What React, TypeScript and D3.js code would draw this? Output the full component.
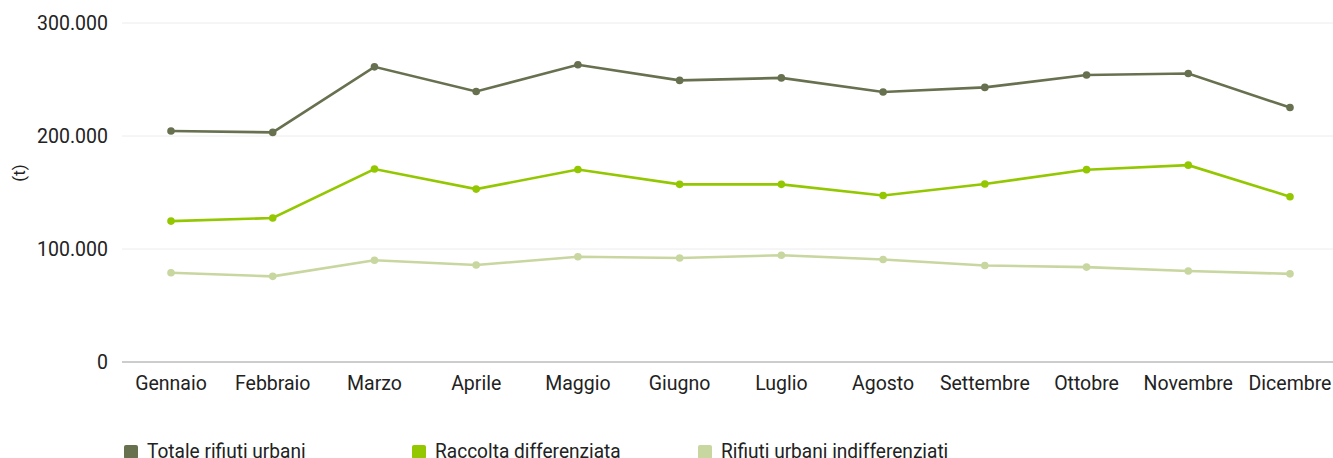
import React from "react";
import * as d3 from "d3";

const months = ["Gennaio","Febbraio","Marzo","Aprile","Maggio","Giugno","Luglio","Agosto","Settembre","Ottobre","Novembre","Dicembre"];
const totale = [204400, 203200, 261200, 239400, 263000, 249200, 251400, 239000, 243000, 254000, 255300, 225200];
const raccolta = [124700, 127400, 170800, 153000, 170300, 157200, 157200, 147300, 157500, 170200, 174200, 146300];
const indiff = [79000, 75800, 90000, 85800, 93200, 92000, 94500, 90700, 85400, 84000, 80500, 78000];
const yTicks = [0, 100000, 200000, 300000];
const seriesNames = ["Totale rifiuti urbani", "Raccolta differenziata", "Rifiuti urbani indifferenziati"];
const seriesColors = ["#67714f", "#93c700", "#c8d6a0"];

export default function App() {
  const W = 1333, H = 458;
  const x = d3.scalePoint<string>().domain(months).range([171, 1290]);
  const y = d3.scaleLinear().domain([0, 300000]).range([362, 23]);
  const fmt = (v: number) => d3.format(",")(v).replace(/,/g, ".");
  const line = d3.line<number>().x((_, i) => x(months[i])!).y((d) => y(d));
  const series = [totale, raccolta, indiff];
  const legendX = [124, 412, 698];
  const font = "Roboto, sans-serif";
  return (
    <svg width={W} height={H} style={{ position: "absolute", left: 0, top: 0, display: "block" }} fontFamily={font}>
      {yTicks.map((t) => (
        <g key={t}>
          <line x1={122} x2={W} y1={y(t)} y2={y(t)} stroke={t === 0 ? "#9a9a9a" : "#ececec"} strokeWidth={1} />
          <text x={108} y={y(t)} dy="0.35em" textAnchor="end" fontSize={19.5} fill="#222">{fmt(t)}</text>
        </g>
      ))}
      <text transform={`translate(25,173) rotate(-90)`} textAnchor="middle" fontSize={17} fill="#222">(t)</text>
      {months.map((m) => (
        <text key={m} x={x(m)!} y={390} textAnchor="middle" fontSize={19.5} fill="#222">{m}</text>
      ))}
      {series.map((s, k) => (
        <g key={k}>
          <path d={line(s)!} fill="none" stroke={seriesColors[k]} strokeWidth={2.6} />
          {s.map((v, i) => (
            <circle key={i} cx={x(months[i])!} cy={y(v)} r={3.8} fill={seriesColors[k]} />
          ))}
        </g>
      ))}
      {seriesNames.map((n, k) => (
        <g key={n}>
          <rect x={legendX[k]} y={445} width={14} height={14} rx={2} fill={seriesColors[k]} />
          <text x={legendX[k] + 23} y={458} fontSize={20} fill="#222" transform={`translate(${legendX[k] + 23},0) scale(0.955,1) translate(${-(legendX[k] + 23)},0)`}>{n}</text>
        </g>
      ))}
    </svg>
  );
}
